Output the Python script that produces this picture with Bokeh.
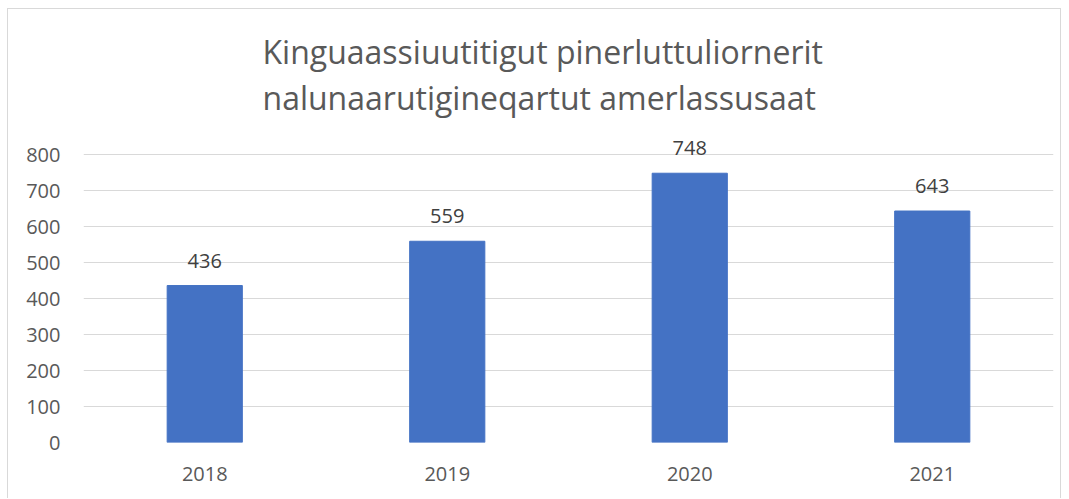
from bokeh.plotting import figure
from bokeh.models import ColumnDataSource, LabelSet, Title
from bokeh.core.properties import value
from bokeh.embed import file_html
from bokeh.resources import INLINE

years = ["2018", "2019", "2020", "2021"]
counts = [436, 559, 748, 643]
labels = [str(c) for c in counts]
yticks = [0, 100, 200, 300, 400, 500, 600, 700, 800]

src = ColumnDataSource(dict(years=years, counts=counts, labels=labels))

FONT = "Open Sans"
p = figure(x_range=years, y_range=(0, 850), width=1054, height=490,
           output_backend="svg", toolbar_location=None,
           min_border_left=75, min_border_right=9, min_border_bottom=57, min_border_top=127,
           styles={"margin": "8px 0 0 7px", "border-left": "1px solid #d9d9d9",
                   "border-top": "1px solid #d9d9d9", "border-right": "1px solid #d9d9d9"})
p.title = Title(text="Kinguaassiuutitigut pinerluttuliornerit\nnalunaarutigineqartut amerlassusaat",
                align="left", text_font=FONT, text_font_size="32px", text_color="#595959",
                text_font_style="normal", text_line_height=1.08, standoff=35, offset=179)

p.vbar(x="years", top="counts", width=0.31, source=src, color="#4472C4")
p.add_layout(LabelSet(x="years", y="counts", text="labels", source=src, y_offset=18,
                      text_align="center", text_baseline="alphabetic", text_font=value(FONT),
                      text_font_size="20px", text_color="#404040"))

p.outline_line_color = None
p.xgrid.grid_line_color = None
p.ygrid.grid_line_color = "#d9d9d9"
p.ygrid.grid_line_width = 1
p.yaxis.ticker = yticks
for ax in (p.xaxis, p.yaxis):
    ax.axis_line_color = None
    ax.major_tick_line_color = None
    ax.minor_tick_line_color = None
    ax.major_label_text_font = FONT
    ax.major_label_text_font_size = "20px"
    ax.major_label_text_color = "#595959"
p.yaxis.major_label_standoff = 17
p.xaxis.major_label_standoff = 18
p.x_range.range_padding = 0

open("out.html", "w").write(file_html(p, INLINE))
